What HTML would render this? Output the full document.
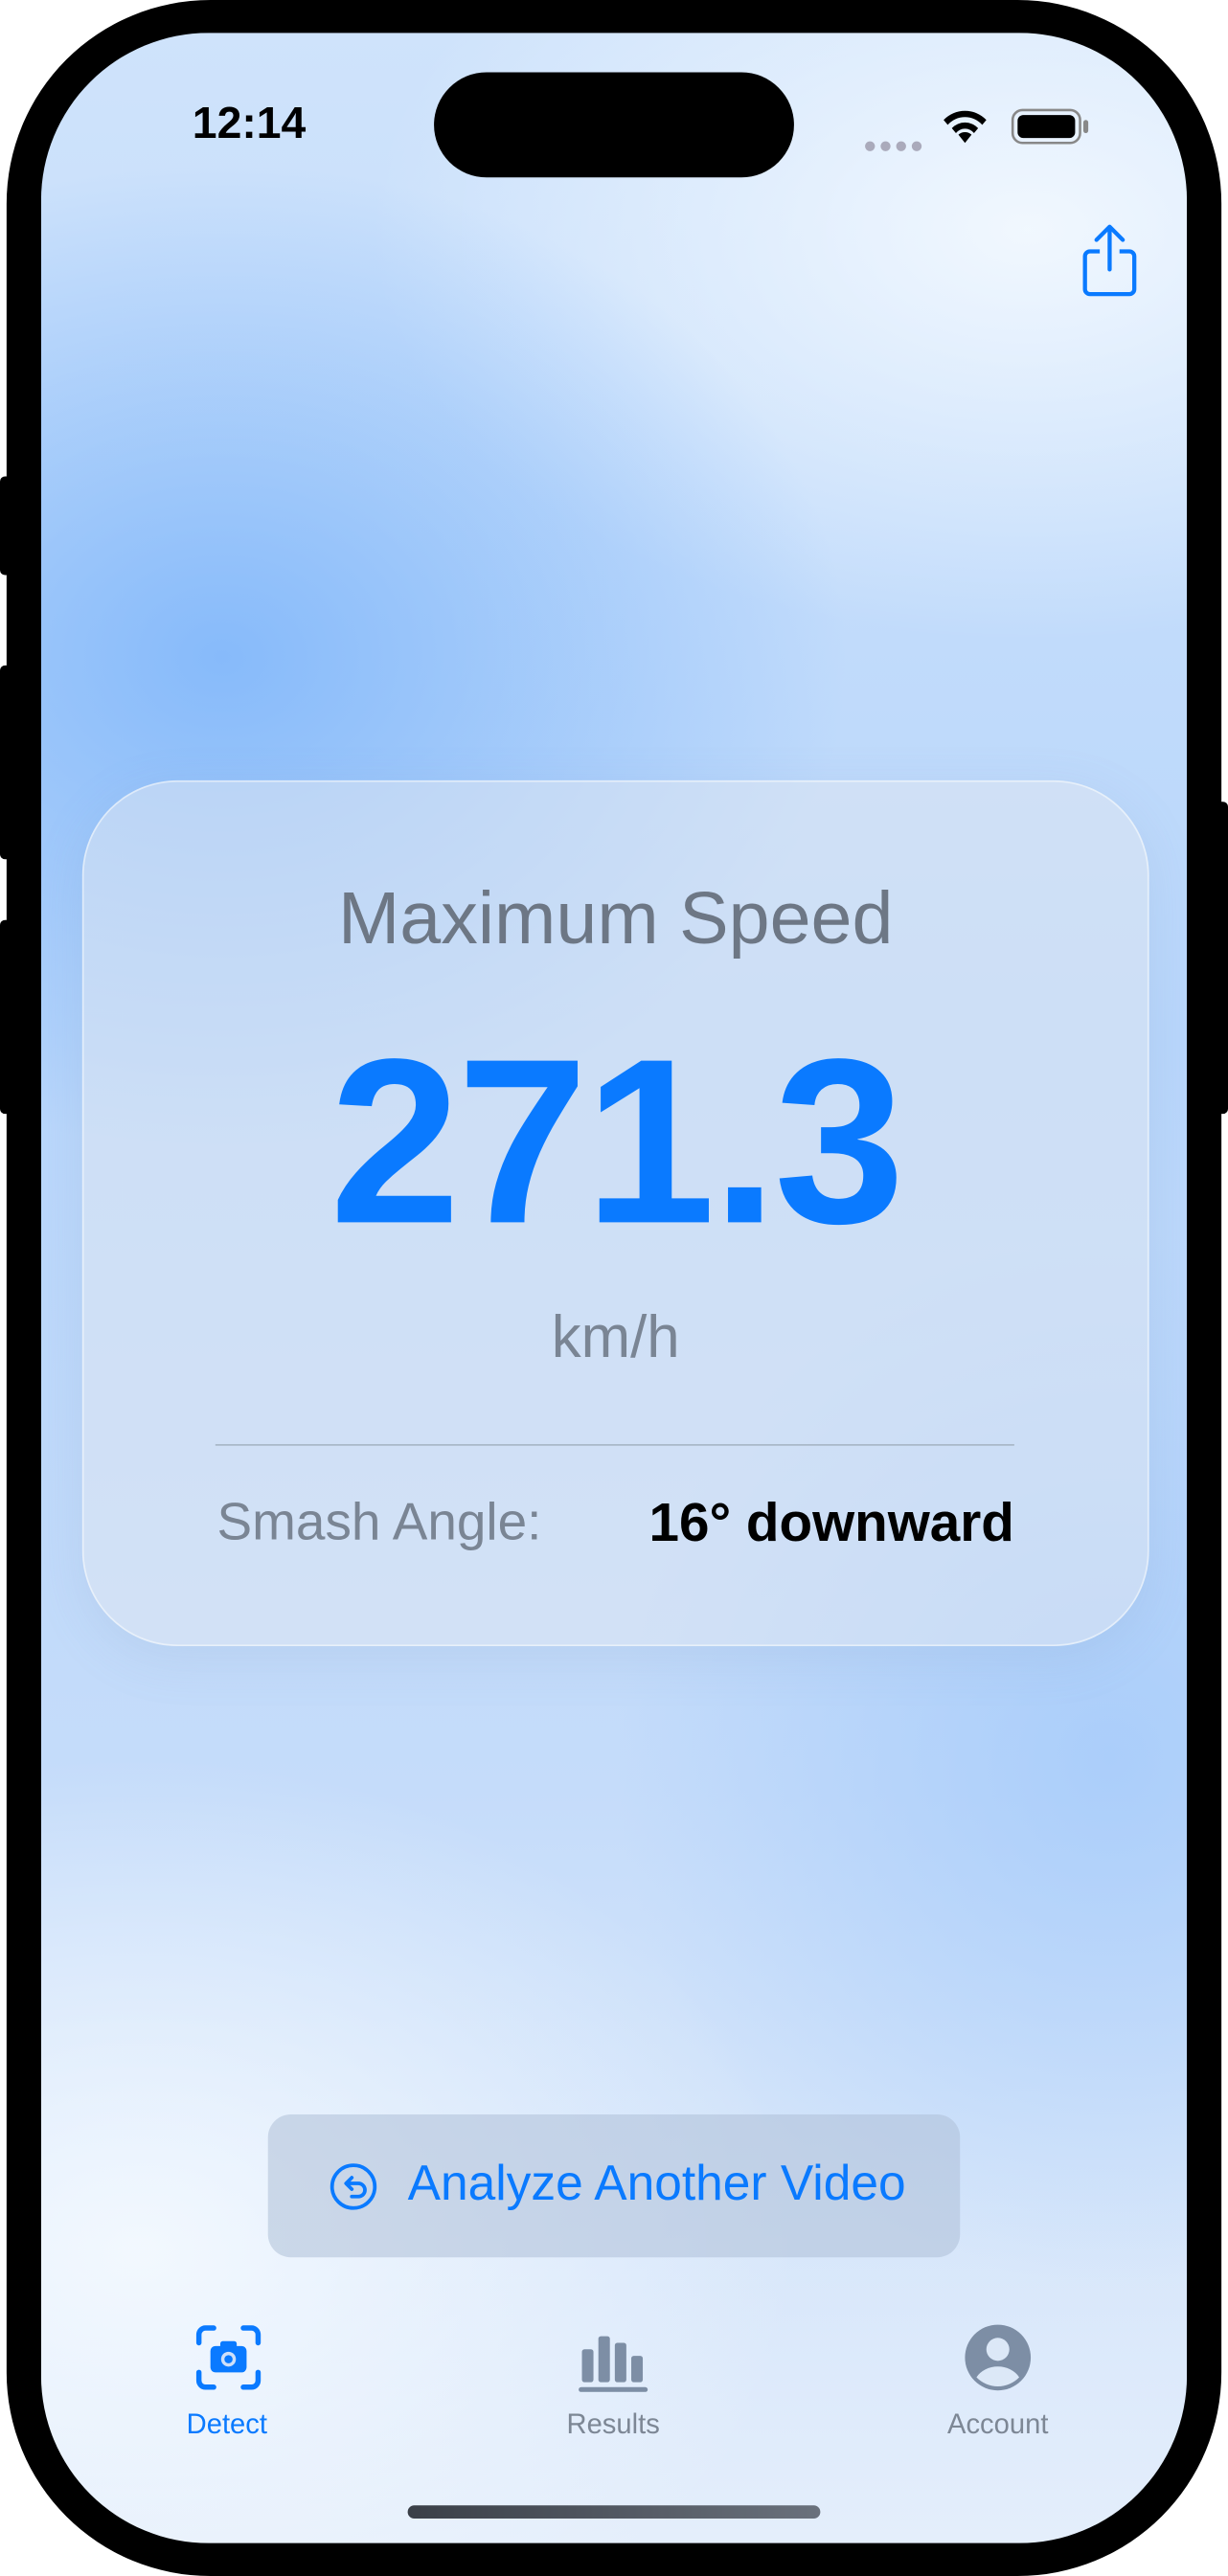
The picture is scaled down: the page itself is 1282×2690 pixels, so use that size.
<!DOCTYPE html>
<html><head><meta charset="utf-8">
<style>
html,body{margin:0;padding:0;width:1282px;height:2690px;overflow:hidden;background:#fff;}
#root{position:absolute;left:0;top:0;width:747px;height:1568px;transform:scale(1.7162,1.7156);transform-origin:0 0;font-family:"Liberation Sans",sans-serif;}
.abs{position:absolute;}
</style></head><body>
<div id="root">
  <div class="abs" style="left:0;top:290px;width:8px;height:60px;background:#000;border-radius:3px"></div>
  <div class="abs" style="left:0;top:405px;width:8px;height:118px;background:#000;border-radius:3px"></div>
  <div class="abs" style="left:0;top:560px;width:8px;height:118px;background:#000;border-radius:3px"></div>
  <div class="abs" style="left:739px;top:488px;width:8px;height:190px;background:#000;border-radius:3px"></div>
  <div class="abs" style="left:4px;top:0;width:739px;height:1568px;background:#000;border-radius:124px"></div>
  <div class="abs" style="left:25px;top:20px;width:697px;height:1528px;border-radius:102px;overflow:hidden;
    background:
      radial-gradient(ellipse 380px 300px at 110px 380px, rgba(120,178,250,0.8), rgba(120,178,250,0) 100%),
      radial-gradient(ellipse 300px 320px at 650px 1050px, rgba(160,200,250,0.7), rgba(160,200,250,0) 100%),
      radial-gradient(ellipse 400px 250px at 600px 120px, rgba(245,250,255,0.9), rgba(245,250,255,0) 100%),
      radial-gradient(ellipse 400px 300px at 60px 1350px, rgba(245,250,255,0.9), rgba(245,250,255,0) 100%),
      linear-gradient(180deg,#cfe3fb 0%,#b8d6fb 40%,#c5dcfa 70%,#e4eefb 100%);">
    <div class="abs" style="left:92px;top:40px;font-size:27px;font-weight:bold;color:#000">12:14</div>
    <div class="abs" style="left:239px;top:24px;width:219px;height:64px;background:#000;border-radius:32px"></div>
    <div class="abs" style="left:500px;top:60px;font-size:14px;color:#aab;letter-spacing:1px">●●●●</div>
    <svg class="abs" style="left:547px;top:46px" width="30" height="22" viewBox="0 0 30 22"><path d="M15 21l-4-5a6 6 0 0 1 8 0z M7 12a11 11 0 0 1 16 0l-2.5 3a7 7 0 0 0-11 0z M2 7a18 18 0 0 1 26 0l-2.5 3a14 14 0 0 0-21 0z" fill="#000"/></svg>
    <svg class="abs" style="left:590px;top:46px" width="48" height="22" viewBox="0 0 48 22"><rect x="1" y="1" width="41" height="20" rx="6" fill="none" stroke="#888" stroke-width="1.5"/><rect x="4" y="4" width="35" height="14" rx="3.5" fill="#000"/><rect x="44" y="7" width="3" height="8" rx="1.5" fill="#888"/></svg>
    <svg class="abs" style="left:632px;top:116px" width="36" height="46" viewBox="0 0 36 46"><path d="M18 2v26 M10 10l8-8 8 8" fill="none" stroke="#0a7aff" stroke-width="2.5" stroke-linecap="round" stroke-linejoin="round"/><path d="M12 17H6a3 3 0 0 0-3 3v20a3 3 0 0 0 3 3h24a3 3 0 0 0 3-3V20a3 3 0 0 0-3-3h-6" fill="none" stroke="#0a7aff" stroke-width="2.5"/></svg>

    <div class="abs" style="left:25px;top:455px;width:647px;height:525px;border-radius:58px;background:rgba(225,232,242,0.5);border:1px solid rgba(255,255,255,0.5);box-shadow:0 8px 30px rgba(120,150,190,0.15)">
      <div class="abs" style="left:0;width:647px;top:57px;text-align:center;font-size:45px;color:#6d7785">Maximum Speed</div>
      <div class="abs" style="left:0;width:647px;top:145px;text-align:center;font-size:143px;font-weight:bold;color:#0a7aff;letter-spacing:-2px;line-height:150px">271.3</div>
      <div class="abs" style="left:0;width:647px;top:317px;text-align:center;font-size:36px;color:#7a8594">km/h</div>
      <div class="abs" style="left:80px;width:486px;top:403px;height:1px;background:#a9b8c8"></div>
      <div class="abs" style="left:81px;top:432px;font-size:32px;color:#7a8594">Smash Angle:</div>
      <div class="abs" style="right:81px;top:432px;font-size:33px;font-weight:bold;color:#000">16° downward</div>
    </div>

    <div class="abs" style="left:138px;top:1267px;width:421px;height:87px;border-radius:14px;background:rgba(175,192,215,0.55)">
      <svg class="abs" style="left:37px;top:29px" width="30" height="30" viewBox="0 0 30 30"><circle cx="15" cy="15" r="13" fill="none" stroke="#0a7aff" stroke-width="2.2"/><path d="M11 13h7a4 4 0 0 1 0 8h-4 M14 9.5l-3.5 3.5 3.5 3.5" fill="none" stroke="#0a7aff" stroke-width="2.2" stroke-linecap="round" stroke-linejoin="round"/></svg>
      <div class="abs" style="left:85px;top:26px;font-size:30px;color:#0a7aff">Analyze Another Video</div>
    </div>

    <div class="abs" style="left:63px;top:1392px;width:100px;height:80px">
      <svg class="abs" style="left:30px;top:2px" width="42" height="42" viewBox="0 0 42 42"><path d="M3 12V7a4 4 0 0 1 4-4h5 M30 3h5a4 4 0 0 1 4 4v5 M39 30v5a4 4 0 0 1-4 4h-5 M12 39H7a4 4 0 0 1-4-4v-5" fill="none" stroke="#0a7aff" stroke-width="3.2" stroke-linecap="round"/><rect x="10" y="14" width="22" height="16" rx="3" fill="#0a7aff"/><rect x="16" y="11" width="10" height="5" rx="1.5" fill="#0a7aff"/><circle cx="21" cy="22" r="4.5" fill="#cfe0f8"/><circle cx="21" cy="22" r="2.5" fill="#0a7aff"/></svg>
      <div class="abs" style="left:0;width:100px;top:54px;text-align:center;font-size:17px;color:#0a7aff">Detect</div>
    </div>
    <div class="abs" style="left:298px;top:1392px;width:100px;height:80px">
      <svg class="abs" style="left:28px;top:4px" width="46" height="40" viewBox="0 0 46 40"><rect x="3" y="14" width="7" height="20" rx="1.5" fill="#7d8ea5"/><rect x="13" y="6" width="7" height="28" rx="1.5" fill="#7d8ea5"/><rect x="23" y="10" width="7" height="24" rx="1.5" fill="#7d8ea5"/><rect x="33" y="18" width="7" height="16" rx="1.5" fill="#7d8ea5"/><rect x="1" y="37" width="42" height="3" rx="1.5" fill="#7d8ea5"/></svg>
      <div class="abs" style="left:0;width:100px;top:54px;text-align:center;font-size:17px;color:#7d8795">Results</div>
    </div>
    <div class="abs" style="left:532px;top:1392px;width:100px;height:80px">
      <svg class="abs" style="left:29px;top:2px" width="42" height="42" viewBox="0 0 42 42"><circle cx="21" cy="21" r="20" fill="#7d8ea5"/><circle cx="21" cy="16" r="7" fill="#dce8f7"/><path d="M8 33a15 13 0 0 1 26 0a18 18 0 0 1-26 0z" fill="#dce8f7"/></svg>
      <div class="abs" style="left:0;width:100px;top:54px;text-align:center;font-size:17px;color:#7d8795">Account</div>
    </div>
    <div class="abs" style="left:223px;top:1505px;width:251px;height:8px;border-radius:4px;background:linear-gradient(90deg,#3a3f47,#6a717c)"></div>
  </div>
</div>
</body></html>
